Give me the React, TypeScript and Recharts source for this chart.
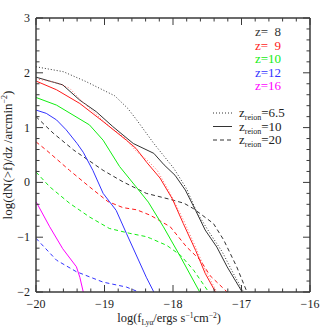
import React from 'react';
import { LineChart, Line, XAxis, YAxis } from 'recharts';

// ---- axis ticks ----
const xTicks = [-20, -19.8, -19.6, -19.4, -19.2, -19, -18.8, -18.6, -18.4, -18.2, -18, -17.8, -17.6, -17.4, -17.2, -17, -16.8, -16.6, -16.4, -16.2, -16];
const yTicks = [-2, -1.8, -1.6, -1.4, -1.2, -1, -0.8, -0.6, -0.4, -0.2, 0, 0.2, 0.4, 0.6, 0.8, 1, 1.2, 1.4, 1.6, 1.8, 2, 2.2, 2.4, 2.6, 2.8, 3];
const xMajor = [-20, -19, -18, -17, -16];
const xMajorLabels = ['\u221220', '\u221219', '\u221218', '\u221217', '\u221216'];
const yMajor = [-2, -1, 0, 1, 2, 3];
const yMajorLabels = ['\u22122', '\u22121', '0', '1', '2', '3'];

// ---- series: [log f, log dN/dz] ----
const z8Reion65: [number, number][] = [[-20, 2.11], [-19.6, 2.02], [-19.27, 1.84], [-18.85, 1.58], [-18.66, 1.35], [-18.53, 1.14], [-18.28, 0.71], [-17.99, 0.26], [-17.8, -0.12], [-17.65, -0.55], [-17.46, -0.93], [-17.28, -1.27], [-17.12, -1.66], [-16.97, -2.0]];
const z8Reion10: [number, number][] = [[-20, 1.92], [-19.61, 1.78], [-19.36, 1.5], [-19.12, 1.29], [-18.88, 1.02], [-18.58, 0.71], [-18.28, 0.53], [-18.13, 0.32], [-17.97, 0.13], [-17.82, -0.14], [-17.67, -0.51], [-17.53, -0.87], [-17.36, -1.18], [-17.21, -1.54], [-16.99, -2.0]];
const z8Reion20: [number, number][] = [[-20, 1.2], [-19.75, 0.9], [-19.45, 0.59], [-19.02, 0.22], [-18.73, 0.01], [-18.39, -0.2], [-18.04, -0.31], [-17.84, -0.38], [-17.7, -0.48], [-17.41, -0.75], [-17.26, -1.05], [-17.07, -1.54], [-16.92, -2.0]];
const z9Reion65: [number, number][] = [[-20, 1.89], [-19.7, 1.82], [-19.51, 1.72], [-19.36, 1.52], [-19.12, 1.24], [-18.9, 0.99], [-18.72, 0.83], [-18.53, 0.56], [-18.38, 0.41], [-18.23, 0.22], [-18.05, -0.18], [-17.85, -0.68], [-17.67, -1.18], [-17.52, -1.62], [-17.36, -2.0]];
const z9Reion10: [number, number][] = [[-20, 1.85], [-19.7, 1.69], [-19.36, 1.44], [-19.02, 1.11], [-18.68, 0.77], [-18.54, 0.62], [-18.38, 0.36], [-18.19, 0.08], [-18.01, -0.3], [-17.85, -0.75], [-17.67, -1.24], [-17.53, -1.66], [-17.38, -2.0]];
const z9Reion20: [number, number][] = [[-20, 0.74], [-19.85, 0.59], [-19.51, 0.22], [-19.22, -0.08], [-18.95, -0.35], [-18.73, -0.46], [-18.53, -0.5], [-18.33, -0.6], [-18.04, -0.81], [-17.8, -1.18], [-17.6, -1.42], [-17.46, -1.7], [-17.21, -2.0]];
const z10Reion10: [number, number][] = [[-20, 1.55], [-19.7, 1.41], [-19.46, 1.23], [-19.22, 1.05], [-19.02, 0.77], [-18.93, 0.59], [-18.78, 0.29], [-18.54, -0.08], [-18.36, -0.36], [-18.14, -0.81], [-17.89, -1.36], [-17.61, -2.0]];
const z10Reion20: [number, number][] = [[-20, 0.19], [-19.8, -0.08], [-19.51, -0.38], [-19.22, -0.63], [-18.93, -0.84], [-18.63, -0.93], [-18.39, -0.99], [-18.33, -1.02], [-18.09, -1.15], [-17.89, -1.33], [-17.7, -1.6], [-17.48, -2.0]];
const z12Reion10: [number, number][] = [[-20, 1.32], [-19.85, 1.26], [-19.7, 1.14], [-19.56, 0.96], [-19.4, 0.71], [-19.31, 0.55], [-19.17, 0.22], [-19.02, -0.2], [-18.83, -0.51], [-18.68, -0.93], [-18.39, -1.73], [-18.28, -2.0]];
const z12Reion20: [number, number][] = [[-20, -1.02], [-19.7, -1.42], [-19.41, -1.63], [-19.02, -1.82], [-18.68, -1.91], [-18.5, -2.0]];
const z16Reion10: [number, number][] = [[-20, -0.35], [-19.8, -0.81], [-19.61, -1.21], [-19.41, -1.54], [-19.36, -1.73], [-19.31, -2.0]];

const AXIS = '#3a3a3a';
const FONT = '"Liberation Serif", "DejaVu Serif", serif';
const BLACK = '#333333';
const RED = '#ff1a1a';
const PINK = '#ff7070';
const GREEN = '#11ee11';
const BLUE = '#3333ff';
const MAGENTA = '#ff00ff';

const DOT = '1 2';
const DASH = '4 3';

const toRows = (arr: [number, number][]) => arr.map(([x, y]) => ({ x, y }));

const W = 327;
const H = 327;
// each axis takes 1px of its own, so margins are one less than the frame offsets
const M = { top: 17, right: 16, bottom: 34, left: 35 };

const isMajor = (v: number) => Math.abs(v - Math.round(v)) < 1e-6;
const labelFor = (v: number, majors: number[], labels: string[]) => {
  const i = majors.findIndex((m) => Math.abs(m - v) < 1e-6);
  return i >= 0 ? labels[i] : '';
};

const BottomTick = (props: any) => {
  const { x, y, payload } = props;
  const v = payload.value;
  const maj = isMajor(v);
  return (
    <g>
      <line x1={x} x2={x} y1={y} y2={y - (maj ? 7 : 3.5)} stroke={AXIS} strokeWidth={1} />
      {maj && (
        <text x={x} y={y + 16} textAnchor="middle" fontFamily={FONT} fontSize={12} fill="#222">
          {labelFor(v, xMajor, xMajorLabels)}
        </text>
      )}
    </g>
  );
};
const TopTick = (props: any) => {
  const { x, y, payload } = props;
  const maj = isMajor(payload.value);
  return <line x1={x} x2={x} y1={y} y2={y + (maj ? 7 : 3.5)} stroke={AXIS} strokeWidth={1} />;
};
const LeftTick = (props: any) => {
  const { x, y, payload } = props;
  const v = payload.value;
  const maj = isMajor(v);
  return (
    <g>
      <line x1={x} x2={x + (maj ? 7 : 3.5)} y1={y} y2={y} stroke={AXIS} strokeWidth={1} />
      {maj && (
        <text x={x - 6} y={y + 4} textAnchor="end" fontFamily={FONT} fontSize={12} fill="#222">
          {labelFor(v, yMajor, yMajorLabels)}
        </text>
      )}
    </g>
  );
};
const RightTick = (props: any) => {
  const { x, y, payload } = props;
  const maj = isMajor(payload.value);
  return <line x1={x} x2={x - (maj ? 7 : 3.5)} y1={y} y2={y} stroke={AXIS} strokeWidth={1} />;
};

const series = [
  { key: 'z8r65', data: z8Reion65, color: BLACK, dash: DOT },
  { key: 'z8r10', data: z8Reion10, color: BLACK, dash: undefined },
  { key: 'z8r20', data: z8Reion20, color: BLACK, dash: DASH },
  { key: 'z9r65', data: z9Reion65, color: PINK, dash: DOT },
  { key: 'z9r10', data: z9Reion10, color: RED, dash: undefined },
  { key: 'z9r20', data: z9Reion20, color: RED, dash: DASH },
  { key: 'z10r10', data: z10Reion10, color: GREEN, dash: undefined },
  { key: 'z10r20', data: z10Reion20, color: GREEN, dash: DASH },
  { key: 'z12r10', data: z12Reion10, color: BLUE, dash: undefined },
  { key: 'z12r20', data: z12Reion20, color: BLUE, dash: DASH },
  { key: 'z16r10', data: z16Reion10, color: MAGENTA, dash: undefined },
];

const legendZ = [
  { n: '8', color: BLACK },
  { n: '9', color: RED },
  { n: '10', color: GREEN },
  { n: '12', color: BLUE },
  { n: '16', color: MAGENTA },
];
const legendReion = [
  { v: '6.5', dash: DOT },
  { v: '10', dash: undefined },
  { v: '20', dash: DASH },
];

export default function App() {
  return (
    <div style={{ position: 'absolute', left: 0, top: 0, width: W, height: H, background: '#fff' }}>
      <LineChart width={W} height={H} margin={M}>
        <XAxis
          xAxisId="b"
          type="number"
          dataKey="x"
          domain={[-20, -16]}
          allowDataOverflow
          ticks={xTicks}
          interval={0}
          height={1}
          tickSize={0}
          tickMargin={0}
          tick={<BottomTick />}
          axisLine={{ stroke: AXIS, strokeWidth: 1.5 }}
          tickLine={false}
        />
        <XAxis
          xAxisId="t"
          orientation="top"
          type="number"
          dataKey="x"
          domain={[-20, -16]}
          allowDataOverflow
          ticks={xTicks}
          interval={0}
          height={1}
          tickSize={0}
          tickMargin={0}
          tick={<TopTick />}
          axisLine={{ stroke: AXIS, strokeWidth: 1.5 }}
          tickLine={false}
        />
        <YAxis
          yAxisId="l"
          type="number"
          dataKey="y"
          domain={[-2, 3]}
          allowDataOverflow
          ticks={yTicks}
          interval={0}
          width={1}
          tickSize={0}
          tickMargin={0}
          tick={<LeftTick />}
          axisLine={{ stroke: AXIS, strokeWidth: 1.5 }}
          tickLine={false}
        />
        <YAxis
          yAxisId="r"
          orientation="right"
          type="number"
          dataKey="y"
          domain={[-2, 3]}
          allowDataOverflow
          ticks={yTicks}
          interval={0}
          width={1}
          tickSize={0}
          tickMargin={0}
          tick={<RightTick />}
          axisLine={{ stroke: AXIS, strokeWidth: 1.5 }}
          tickLine={false}
        />
        {series.map((s) => (
          <Line
            key={s.key}
            xAxisId="b"
            yAxisId="l"
            data={toRows(s.data)}
            dataKey="y"
            type="linear"
            stroke={s.color}
            strokeWidth={1}
            strokeDasharray={s.dash}
            dot={false}
            activeDot={false}
            isAnimationActive={false}
          />
        ))}
      </LineChart>
      <svg
        width={W}
        height={H}
        style={{ position: 'absolute', left: 0, top: 0, pointerEvents: 'none' }}
        fontFamily={FONT}
      >
        {legendZ.map((l, i) => (
          <g key={l.n} fill={l.color} fontSize={13}>
            <text x={255} y={36 + i * 13.5}>z=</text>
            <text x={281} y={36 + i * 13.5} textAnchor="end">{l.n}</text>
          </g>
        ))}
        {legendReion.map((l, i) => {
          const y = 113 + i * 13.5;
          return (
            <g key={l.v}>
              <line x1={213} x2={232} y1={y} y2={y} stroke={BLACK} strokeWidth={1} strokeDasharray={l.dash} />
              <text x={239} y={y + 4} fontSize={13} fill="#222">
                z<tspan fontSize={8} dy={3}>reion</tspan>
                <tspan dy={-3}>={l.v}</tspan>
              </text>
            </g>
          );
        })}
        <text x={169} y={322} textAnchor="middle" fontSize={12.5} fill="#222">
          log(f<tspan fontSize={7.5} dy={2.5}>Ly{'\u03b1'}</tspan>
          <tspan dy={-2.5}>/ergs s</tspan>
          <tspan fontSize={7.5} dy={-4}>{'\u2212'}1</tspan>
          <tspan dy={4}>cm</tspan>
          <tspan fontSize={7.5} dy={-4}>{'\u2212'}2</tspan>
          <tspan dy={4}>)</tspan>
        </text>
        <text x={0} y={0} transform="translate(12,155) rotate(-90)" textAnchor="middle" fontSize={13} fill="#222">
          log(dN({'>'}f)/dz /arcmin
          <tspan fontSize={8} dy={-5}>{'\u2212'}2</tspan>
          <tspan dy={5}>)</tspan>
        </text>
      </svg>
    </div>
  );
}
